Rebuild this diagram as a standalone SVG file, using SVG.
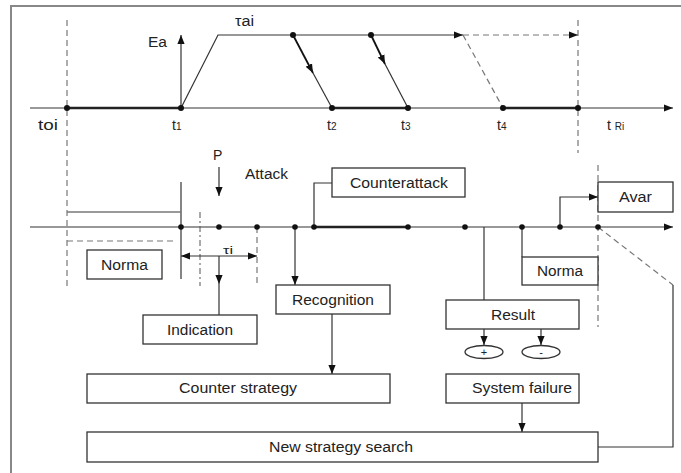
<svg xmlns="http://www.w3.org/2000/svg" width="681" height="473" viewBox="0 0 681 473">
<defs>
<style>
text{font-family:"Liberation Sans",Arial,sans-serif;fill:#222;}
.lbl{font-size:14px;text-anchor:middle;}
.sm{font-size:14px;}
.sub{font-size:10px;}
.box{fill:#fff;stroke:#333;stroke-width:1.3;}
.ln{stroke:#333;stroke-width:1.2;fill:none;}
.gr{stroke:#777;stroke-width:1.5;fill:none;}
.thk{stroke:#222;stroke-width:2.4;fill:none;}
.dash{stroke:#777;stroke-width:1.2;fill:none;stroke-dasharray:6 4;}
.dd{stroke:#555;stroke-width:1;fill:none;stroke-dasharray:6 3 2 3;}
.dot{fill:#111;}
</style>
<marker id="ah" viewBox="0 0 10 10" refX="10" refY="5" markerWidth="9" markerHeight="9" markerUnits="userSpaceOnUse" orient="auto">
<path d="M0,1 L10,5 L0,9 z" fill="#111"/>
</marker>
<marker id="ahs" viewBox="0 0 10 10" refX="0" refY="5" markerWidth="9" markerHeight="9" markerUnits="userSpaceOnUse" orient="auto">
<path d="M10,1 L0,5 L10,9 z" fill="#111"/>
</marker>
</defs>
<rect width="681" height="473" fill="#fff"/>
<!-- frame -->
<path d="M11,473 V6 H681" stroke="#888" stroke-width="2" fill="none"/>

<g id="connectors">
<!-- top timeline -->
<line x1="30" y1="108" x2="67" y2="108" class="gr"/>
<line x1="67" y1="108" x2="181" y2="108" class="thk"/>
<line x1="181" y1="108" x2="332" y2="108" class="gr"/>
<line x1="332" y1="108" x2="408" y2="108" class="thk"/>
<line x1="408" y1="108" x2="503" y2="108" class="gr"/>
<line x1="503" y1="108" x2="578" y2="108" class="thk"/>
<line x1="578" y1="108" x2="673" y2="108" class="gr" marker-end="url(#ah)"/>
<!-- dashed verticals -->
<line x1="67" y1="20" x2="67" y2="287" class="dash"/>
<line x1="578" y1="20" x2="578" y2="153" class="dash"/>
<line x1="598" y1="165" x2="598" y2="327" class="dash"/>
<!-- Ea arrow -->
<line x1="181" y1="108" x2="181" y2="35" class="ln" marker-end="url(#ah)"/>
<!-- trapezoid -->
<polyline points="181,108 218,35 293,35" class="ln"/>
<line x1="293" y1="35" x2="371" y2="35" class="gr"/>
<line x1="371" y1="35" x2="463" y2="35" class="ln" marker-end="url(#ah)"/>
<line x1="463" y1="35" x2="578" y2="35" class="dash" marker-end="url(#ah)"/>
<line x1="463" y1="35" x2="503" y2="108" class="dash"/>
<!-- diagonal arrows -->
<line x1="293" y1="35" x2="313" y2="73" stroke="#111" stroke-width="1.8" marker-end="url(#ah)"/>
<line x1="313" y1="73" x2="332" y2="108" class="ln"/>
<line x1="371" y1="35" x2="385" y2="64" stroke="#111" stroke-width="1.8" marker-end="url(#ah)"/>
<line x1="385" y1="64" x2="408" y2="108" class="ln"/>

<!-- second timeline -->
<line x1="30" y1="227" x2="314" y2="227" class="ln"/>
<line x1="314" y1="227" x2="408" y2="227" class="thk"/>
<line x1="408" y1="227" x2="673" y2="227" class="ln" marker-end="url(#ah)"/>
<!-- P attack arrow -->
<line x1="219" y1="167" x2="219" y2="196" class="ln" marker-end="url(#ah)"/>
<!-- left structure -->
<line x1="181" y1="182" x2="181" y2="279" class="ln"/>
<line x1="67" y1="212" x2="181" y2="212" class="gr"/>
<line x1="67" y1="241" x2="175" y2="241" class="dash" stroke="#444"/>
<line x1="200" y1="212" x2="200" y2="286" class="dd"/>
<line x1="257" y1="227" x2="257" y2="286" class="dash"/>
<!-- tau i dimension -->
<line x1="181" y1="256" x2="257" y2="256" class="ln" marker-start="url(#ahs)" marker-end="url(#ah)"/>
<line x1="219" y1="256" x2="219" y2="284" class="ln" marker-end="url(#ah)"/>
<line x1="219" y1="284" x2="219" y2="315" class="ln"/>
<!-- recognition -->
<line x1="295" y1="227" x2="295" y2="285" class="ln" marker-end="url(#ah)"/>
<line x1="332" y1="314" x2="332" y2="374" class="ln" marker-end="url(#ah)"/>
<!-- counterattack -->
<polyline points="314,227 314,183 332,183" class="ln"/>
<!-- result -->
<line x1="484" y1="227" x2="484" y2="300" class="ln"/>
<line x1="484" y1="329" x2="484" y2="345" class="ln" marker-end="url(#ah)"/>
<line x1="541" y1="329" x2="541" y2="345" class="ln" marker-end="url(#ah)"/>
<!-- norma right -->
<line x1="522" y1="227" x2="522" y2="257" class="ln"/>
<!-- avar -->
<polyline points="560,227 560,197 598,197" class="ln" marker-end="url(#ah)"/>
<!-- feedback -->
<line x1="598" y1="227" x2="673" y2="285" class="dash" stroke="#444"/>
<polyline points="673,285 673,447 598,447" class="ln"/>
<!-- system failure -->
<line x1="522" y1="403" x2="522" y2="432" class="ln" marker-end="url(#ah)"/>
</g>

<g id="dots">
<circle cx="67" cy="108" r="3" class="dot"/>
<circle cx="181" cy="108" r="3" class="dot"/>
<circle cx="332" cy="108" r="3" class="dot"/>
<circle cx="408" cy="108" r="3" class="dot"/>
<circle cx="503" cy="108" r="3" class="dot"/>
<circle cx="578" cy="108" r="3" class="dot"/>
<circle cx="293" cy="35" r="3" class="dot"/>
<circle cx="371" cy="35" r="3" class="dot"/>
<circle cx="181" cy="227" r="2.8" class="dot"/>
<circle cx="219" cy="227" r="2.8" class="dot"/>
<circle cx="257" cy="227" r="2.8" class="dot"/>
<circle cx="295" cy="227" r="2.8" class="dot"/>
<circle cx="314" cy="227" r="2.8" class="dot"/>
<circle cx="408" cy="227" r="2.8" class="dot"/>
<circle cx="465" cy="227" r="2.8" class="dot"/>
<circle cx="522" cy="227" r="2.8" class="dot"/>
<circle cx="560" cy="227" r="2.8" class="dot"/>
<circle cx="598" cy="227" r="2.8" class="dot"/>
</g>

<g id="labels">
<text x="148" y="47" class="sm" textLength="19" lengthAdjust="spacingAndGlyphs">Ea</text>
<text x="235" y="26" class="sm" textLength="19" lengthAdjust="spacingAndGlyphs">τai</text>
<text x="38" y="130" class="sm" textLength="20" lengthAdjust="spacingAndGlyphs">toi</text>
<text x="172" y="130" class="sm">t<tspan class="sub">1</tspan></text>
<text x="327" y="130" class="sm">t<tspan class="sub">2</tspan></text>
<text x="401" y="130" class="sm">t<tspan class="sub">3</tspan></text>
<text x="497" y="130" class="sm">t<tspan class="sub">4</tspan></text>
<text x="607" y="130" class="sm">t <tspan class="sub">Ri</tspan></text>
<text x="213" y="160" class="sm">P</text>
<text x="245" y="179" class="sm" textLength="43" lengthAdjust="spacingAndGlyphs">Attack</text>
<text x="223" y="254" font-size="11" textLength="10" lengthAdjust="spacingAndGlyphs">τi</text>
</g>

<g id="node-norma-left"><rect x="87" y="250" width="75" height="29" class="box"/><text x="124.5" y="270" class="lbl" textLength="47" lengthAdjust="spacingAndGlyphs">Norma</text></g>
<g id="node-indication"><rect x="143" y="315" width="114" height="29" class="box"/><text x="200" y="335" class="lbl" textLength="66" lengthAdjust="spacingAndGlyphs">Indication</text></g>
<g id="node-recognition"><rect x="276" y="285" width="114" height="29" class="box"/><text x="333" y="305" class="lbl" textLength="82" lengthAdjust="spacingAndGlyphs">Recognition</text></g>
<g id="node-counterattack"><rect x="332" y="168" width="133" height="29" class="box"/><text x="399" y="188" class="lbl" textLength="98" lengthAdjust="spacingAndGlyphs">Counterattack</text></g>
<g id="node-avar"><rect x="598" y="182" width="75" height="30" class="box"/><text x="635.5" y="202" class="lbl" textLength="33" lengthAdjust="spacingAndGlyphs">Avar</text></g>
<g id="node-norma-right"><rect x="522" y="257" width="76" height="28" class="box"/><text x="560" y="276" class="lbl" textLength="46" lengthAdjust="spacingAndGlyphs">Norma</text></g>
<g id="node-result"><rect x="446" y="300" width="133" height="29" class="box"/><text x="513" y="320" class="lbl" textLength="44" lengthAdjust="spacingAndGlyphs">Result</text></g>
<g id="node-plus"><ellipse cx="484" cy="352" rx="19" ry="6.5" class="box" stroke-width="1"/><text x="484" y="356" font-size="11" text-anchor="middle">+</text></g>
<g id="node-minus"><ellipse cx="541" cy="352" rx="19" ry="6.5" class="box" stroke-width="1"/><text x="541" y="356" font-size="11" text-anchor="middle">-</text></g>
<g id="node-counter-strategy"><rect x="87" y="374" width="303" height="29" class="box"/><text x="238" y="393" class="lbl" textLength="118" lengthAdjust="spacingAndGlyphs">Counter strategy</text></g>
<g id="node-system-failure"><rect x="446" y="374" width="133" height="29" class="box"/><text x="522" y="393" class="lbl" textLength="100" lengthAdjust="spacingAndGlyphs">System failure</text></g>
<g id="node-new-strategy"><rect x="87" y="432" width="511" height="30" class="box"/><text x="341" y="452" class="lbl" textLength="144" lengthAdjust="spacingAndGlyphs">New strategy search</text></g>
</svg>
